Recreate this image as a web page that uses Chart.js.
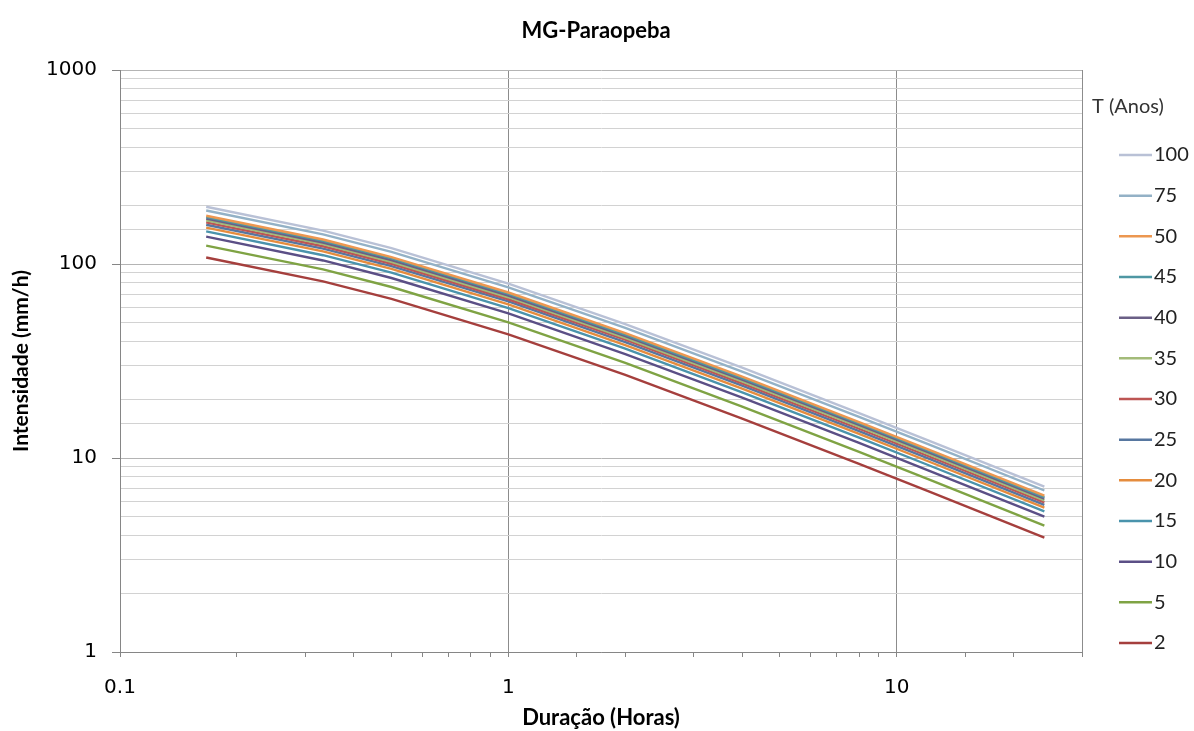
<!DOCTYPE html>
<html>
<head>
<meta charset="utf-8">
<script src="https://cdn.jsdelivr.net/npm/chart.js@4.4.0/dist/chart.umd.min.js"></script>
<style>
  body { margin: 0; background: #fff; }
  .box { width: 1194px; height: 731px; }
</style>
</head>
<body>
<div class="box"><canvas id="myChart"></canvas></div>
<script>
// duracao em horas (10 min ... 24 h)
const duracao = [0.1667, 0.3333, 0.5, 1, 2, 4, 8, 12, 24]
const periodos = ["100", "75", "50", "45", "40", "35", "30", "25", "20", "15", "10", "5", "2"]

// intensidade (mm/h) por periodo de retorno
const t100 = [197.3, 148.7, 120.8, 79.3, 49.0, 29.2, 17.05, 12.37, 7.11]
const t75 = [188.7, 142.2, 115.5, 75.8, 46.8, 27.9, 16.3, 11.83, 6.8]
const t50 = [177.3, 133.7, 108.5, 71.3, 44.0, 26.24, 15.32, 11.12, 6.39]
const t45 = [174.4, 131.5, 106.8, 70.1, 43.3, 25.81, 15.07, 10.93, 6.28]
const t40 = [171.3, 129.1, 104.8, 68.8, 42.5, 25.34, 14.8, 10.74, 6.17]
const t35 = [167.8, 126.5, 102.7, 67.4, 41.6, 24.83, 14.5, 10.52, 6.05]
const t30 = [163.8, 123.5, 100.3, 65.8, 40.7, 24.24, 14.15, 10.27, 5.9]
const t25 = [159.4, 120.1, 97.6, 64.1, 39.6, 23.59, 13.77, 9.99, 5.74]
const t20 = [154.0, 116.1, 94.3, 61.9, 38.2, 22.79, 13.3, 9.65, 5.55]
const t15 = [147.3, 111.0, 90.2, 59.2, 36.6, 21.8, 12.73, 9.23, 5.31]
const t10 = [138.3, 104.3, 84.7, 55.6, 34.3, 20.47, 11.95, 8.67, 4.98]
const t5 = [124.4, 93.8, 76.1, 50.0, 30.9, 18.41, 10.75, 7.8, 4.48]
const t2 = [108.0, 81.4, 66.1, 43.4, 26.8, 15.98, 9.33, 6.77, 3.89]

const series = [t100, t75, t50, t45, t40, t35, t30, t25, t20, t15, t10, t5, t2]
const cores = [
  "#B9C1D6", "#93B1C6", "#EC9750", "#4E97A3", "#6A5F86", "#A3BB79", "#BD5553",
  "#5777A0", "#E58C3D", "#4A93AC", "#5B4F86", "#7FA344", "#A53F3D",
]

const isPow10 = (v) => {
  const l = Math.log10(v)
  return Math.abs(l - Math.round(l)) < 1e-6
}
const rotulo = (v) => (v >= 1 ? String(Math.round(v)) : v.toFixed(1))

// titulo e legenda no estilo do excel
const extras = {
  id: "extras",
  afterDraw(chart) {
    const c = chart.ctx
    c.save()
    c.textBaseline = "middle"
    c.textAlign = "center"
    c.fillStyle = "#000"
    c.font = "bold 22px Lato"
    c.fillText("MG-Paraopeba", 596, 31)

    c.textAlign = "left"
    c.font = "20px Lato"
    c.fillStyle = "#333"
    c.fillText("T (Anos)", 1092, 107)
    chart.data.datasets.forEach((ds, i) => {
      const y = 155 + i * 40.67
      c.strokeStyle = ds.borderColor
      c.lineWidth = 2.5
      c.beginPath()
      c.moveTo(1119, y)
      c.lineTo(1152, y)
      c.stroke()
      c.fillStyle = "#222"
      c.fillText(ds.label, 1154, y)
    })
    c.restore()
  },
}

const datasets = series.map((s, i) => ({
  label: periodos[i],
  data: s.map((v, j) => ({ x: duracao[j], y: v })),
  borderColor: cores[i],
  backgroundColor: cores[i],
  borderWidth: 2.4,
  pointRadius: 0,
  tension: 0,
}))

var ctx = document.getElementById("myChart").getContext("2d")
var myChart = new Chart(ctx, {
  type: "line",
  data: { datasets: datasets },
  plugins: [extras],
  options: {
    responsive: true,
    maintainAspectRatio: false,
    animation: false,
    layout: { padding: { top: 70, right: 112 } },
    plugins: {
      legend: { display: false },
      tooltip: { enabled: false },
      title: { display: false },
    },
    scales: {
      x: {
        type: "logarithmic",
        min: 0.1,
        max: 30,
        afterFit: (s) => { s.height = 79 },
        border: { color: "#868686" },
        grid: {
          color: (c) => (c.tick && (isPow10(c.tick.value) || c.tick.value >= 30) ? "#8C8C8C" : "rgba(0,0,0,0)"),
          tickColor: "#868686",
          tickLength: 5,
        },
        ticks: {
          autoSkip: false,
          maxRotation: 0,
          padding: 19,
          color: "#000",
          font: { family: "DejaVu Sans", size: 20 },
          callback: (v) => (isPow10(v) ? rotulo(v) : ""),
        },
        title: {
          display: true,
          text: "Duração (Horas)",
          color: "#000",
          font: { family: "Lato", size: 22, weight: "bold" },
          padding: { top: 0, bottom: 0 },
        },
      },
      y: {
        type: "logarithmic",
        min: 1,
        max: 1000,
        afterFit: (s) => { s.width = 120 },
        border: { color: "#868686" },
        grid: {
          color: (c) => (c.tick && isPow10(c.tick.value) ? "#B4B4B4" : "#D2D2D2"),
          tickColor: (c) => (c.tick && isPow10(c.tick.value) ? "#868686" : "rgba(0,0,0,0)"),
          tickLength: 8,
        },
        ticks: {
          autoSkip: false,
          padding: 15,
          color: "#000",
          font: { family: "DejaVu Sans", size: 20 },
          callback: (v) => (isPow10(v) ? rotulo(v) : ""),
        },
        title: {
          display: true,
          text: "Intensidade (mm/h)",
          color: "#000",
          font: { family: "Lato", size: 21, weight: "bold" },
          padding: { top: 9, bottom: 0 },
        },
      },
    },
  },
})
</script>
</body>
</html>
